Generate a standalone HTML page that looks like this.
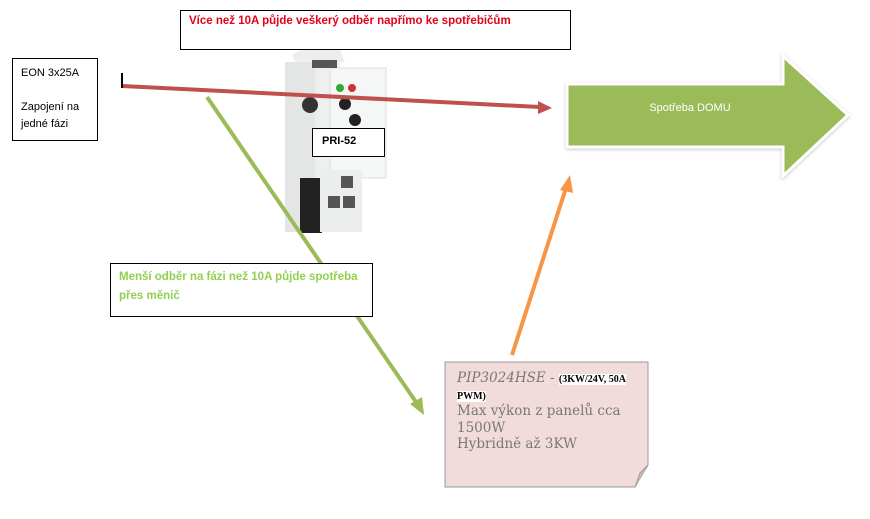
<!DOCTYPE html>
<html><head><meta charset="utf-8"><style>
body{margin:0;width:870px;height:519px;background:#fff;position:relative;overflow:hidden;font-family:"Liberation Sans","DejaVu Sans",sans-serif}
.box{position:absolute;border:1px solid #000;background:#fff;box-sizing:border-box}
</style></head><body>
<svg width="870" height="519" style="position:absolute;left:0;top:0">
<defs>
<filter id="sh"><feDropShadow dx="0" dy="1" stdDeviation="1.5" flood-color="#888" flood-opacity="0.5"/></filter>
</defs>
<g>
<path d="M292 55 L300 50 L340 50 L345 62 L310 65 L300 70 Z" fill="#eceeee"/>
<rect x="295" y="60" width="45" height="170" fill="#eef0f0"/>
<rect x="285" y="62" width="30" height="170" fill="#e4e6e6"/>
<rect x="330" y="68" width="56" height="110" fill="#f5f6f6" stroke="#ddd"/>
<rect x="300" y="178" width="22" height="55" fill="#222"/>
<rect x="320" y="170" width="42" height="62" fill="#eceeee"/>
<circle cx="310" cy="105" r="8" fill="#333"/>
<circle cx="340" cy="88" r="4" fill="#3a3"/>
<circle cx="352" cy="88" r="4" fill="#c33"/>
<circle cx="345" cy="104" r="6" fill="#222"/>
<circle cx="355" cy="120" r="6" fill="#222"/>
<rect x="341" y="176" width="12" height="12" fill="#555"/>
<rect x="328" y="196" width="12" height="12" fill="#555"/>
<rect x="343" y="196" width="12" height="12" fill="#555"/>
<rect x="312" y="60" width="25" height="8" fill="#555"/>
</g>
<line x1="122" y1="86" x2="540" y2="107" stroke="#c0504d" stroke-width="4"/>
<polygon points="552,108 538,101 538,114" fill="#c0504d"/>
<line x1="122" y1="73" x2="122" y2="88" stroke="#000" stroke-width="2"/>
<line x1="207" y1="97" x2="418" y2="405" stroke="#9bbb59" stroke-width="4"/>
<polygon points="424,415 410,404 422,397" fill="#9bbb59"/>
<line x1="512" y1="355" x2="566" y2="188" stroke="#f79646" stroke-width="4"/>
<polygon points="570,175 560,190 573,193" fill="#f79646"/>
<polygon points="567,84 783,84 783,56 848,115 783,176 783,147 567,147" fill="#9bbb59" stroke="#fff" stroke-width="3" filter="url(#sh)"/>
<text x="690" y="111" font-size="11" fill="#fff" text-anchor="middle" font-family="Liberation Sans, sans-serif">Spotřeba DOMU</text>
<path d="M445 362 L648 362 L648 465 L635 487 L445 487 Z" fill="#f2dcdb" stroke="#999"/>
<path d="M635 487 L640 473 L648 465" fill="#d8b5b5" stroke="#999"/>
</svg>
<div class="box" style="left:180px;top:10px;width:391px;height:40px;padding:4px 0 0 8px;font-size:11.5px;font-weight:bold;color:#e3001b">Více než 10A půjde veškerý odběr napřímo ke spotřebičům</div>
<div class="box" style="left:12px;top:58px;width:86px;height:83px;padding:6px 0 0 8px;font-size:11px;line-height:17px">EON 3x25A<br><br>Zapojení na<br>jedné fázi</div>
<div class="box" style="left:312px;top:128px;width:73px;height:29px;padding:6px 0 0 9px;font-size:11px;font-weight:bold">PRI-52</div>
<div class="box" style="left:110px;top:263px;width:263px;height:54px;padding:4px 0 0 8px;font-size:11.5px;font-weight:bold;color:#92d050;line-height:19px">Menší odběr na fázi než 10A půjde spotřeba přes měnič</div>
<div style="position:absolute;left:457px;top:370px;width:188px;font-family:'DejaVu Serif','Liberation Serif',serif;font-size:13.5px;line-height:16.5px;color:#777"><i>PIP3024HSE</i> - <span style="font-family:'Liberation Serif',serif;font-weight:bold;font-size:10px;color:#000;background:#fff;line-height:13px">(3KW/24V, 50A PWM)</span><br>Max výkon z panelů cca 1500W<br>Hybridně až 3KW</div>
</body></html>
